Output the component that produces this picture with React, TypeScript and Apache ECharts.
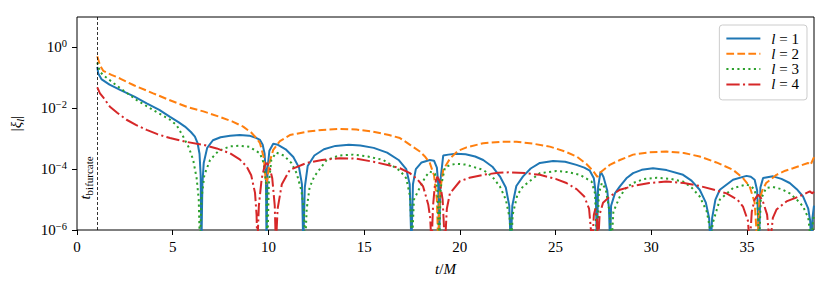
import React, { useEffect, useRef } from "react";
import * as echarts from "echarts";

const T_BIF = 1.05;
const X_TICKS = [0, 5, 10, 15, 20, 25, 30, 35];
const Y_TICKS = [1e-6, 1e-4, 1e-2, 1];
const SERIES_NAMES = ["l = 1", "l = 2", "l = 3", "l = 4"];
const COLORS = ["#1f77b4", "#ff7f0e", "#2ca02c", "#d62728"];

// value 3e-7 marks a zero crossing (below the axis floor)
const L1: [number, number][] = [
  [1.06, 2.3e-1], [1.11, 1.4e-1], [1.29, 8.9e-2], [1.7, 6.0e-2], [2.25, 4.0e-2], [3.0, 2.4e-2],
  [3.64, 1.45e-2], [4.3, 8.9e-3], [4.86, 5.2e-3], [5.3, 3.5e-3], [5.64, 2.5e-3], [5.95, 1.66e-3],
  [6.16, 1.17e-3], [6.3, 7.1e-4], [6.4, 3.2e-4], [6.46, 6.3e-5], [6.5, 3e-7], [6.55, 3.2e-5],
  [6.62, 1.6e-4], [6.8, 5.0e-4], [7.1, 8.9e-4], [7.5, 1.12e-3], [8.0, 1.26e-3], [8.5, 1.32e-3],
  [9.0, 1.26e-3], [9.3, 1.1e-3], [9.56, 9.1e-4], [9.7, 6.3e-4], [9.8, 3.2e-4], [9.87, 6.3e-5],
  [9.9, 3e-7], [9.95, 1.0e-4], [10.05, 4.0e-4], [10.25, 6.8e-4], [10.5, 6.3e-4], [10.9, 4.5e-4],
  [11.3, 2.5e-4], [11.6, 1.12e-4], [11.75, 3.2e-5], [11.82, 3e-7], [11.9, 2.5e-5], [12.05, 1.26e-4],
  [12.4, 2.8e-4], [12.9, 4.5e-4], [13.5, 5.8e-4], [14.2, 6.3e-4], [14.8, 6.0e-4], [15.5, 5.0e-4],
  [16.2, 3.5e-4], [16.8, 2.0e-4], [17.2, 1.0e-4], [17.38, 3.2e-5], [17.47, 3e-7], [17.55, 3.2e-5],
  [17.7, 1.0e-4], [18.0, 1.66e-4], [18.43, 2.0e-4], [18.65, 1.9e-4], [18.8, 1.12e-4], [18.87, 3.2e-5],
  [18.92, 3e-7], [18.98, 4.0e-5], [19.13, 2.8e-4], [19.4, 3.0e-4], [19.8, 3.2e-4], [20.3, 3.1e-4],
  [20.8, 2.6e-4], [21.22, 2.0e-4], [21.7, 1.2e-4], [22.09, 5.8e-5], [22.4, 2.5e-5], [22.58, 6.3e-6],
  [22.66, 3e-7], [22.74, 6.3e-6], [22.95, 2.8e-5], [23.3, 5.8e-5], [23.7, 1.05e-4], [24.18, 1.6e-4],
  [24.87, 1.86e-4], [25.5, 1.74e-4], [26.09, 1.38e-4], [26.5, 1.12e-4], [26.79, 8.9e-5], [27.0, 5.0e-5],
  [27.1, 1.6e-5], [27.16, 3e-7], [27.22, 2.5e-5], [27.35, 8.3e-5], [27.5, 5.6e-5], [27.7, 2.0e-5],
  [27.79, 5.0e-6], [27.85, 3e-7], [27.9, 6.3e-6], [28.1, 1.6e-5], [28.36, 2.7e-5], [28.7, 5.0e-5],
  [29.05, 7.4e-5], [29.5, 9.5e-5], [30.09, 1.07e-4], [30.8, 9.3e-5], [31.66, 6.5e-5], [32.1, 4.2e-5],
  [32.53, 2.1e-5], [32.85, 7.9e-6], [33.02, 2.5e-6], [33.1, 3e-7], [33.18, 2.5e-6], [33.35, 1.0e-5],
  [33.58, 2.1e-5], [34.27, 4.5e-5], [34.97, 6.0e-5], [35.2, 5.6e-5], [35.4, 4.5e-5], [35.53, 2.0e-5],
  [35.63, 3e-7], [35.7, 2.5e-5], [35.84, 5.1e-5], [36.36, 5.8e-5], [36.8, 4.8e-5], [37.23, 3.5e-5],
  [37.6, 2.2e-5], [37.93, 1.26e-5], [38.2, 5.0e-6], [38.3, 2.0e-6], [38.36, 3e-7], [38.42, 2.5e-6],
  [38.5, 6.3e-6],
];

const L2: [number, number][] = [
  [1.06, 5.1e-1], [1.2, 2.6e-1], [1.37, 1.7e-1], [1.8, 1.26e-1], [2.25, 9.5e-2], [3.0, 5.6e-2],
  [3.98, 3.1e-2], [4.8, 1.9e-2], [5.73, 1.12e-2], [6.6, 7.9e-3], [7.47, 5.2e-3], [8.1, 3.7e-3],
  [8.68, 2.5e-3], [9.1, 1.6e-3], [9.4, 1.0e-3], [9.56, 7.1e-4], [9.75, 2.5e-4], [9.88, 3.2e-5],
  [9.95, 5.0e-5], [10.05, 1.6e-4], [10.25, 4.3e-4], [10.6, 8.3e-4], [11.12, 1.32e-3], [12.0, 1.7e-3],
  [12.8, 1.95e-3], [13.73, 2.1e-3], [14.6, 2.0e-3], [15.47, 1.7e-3], [16.3, 1.32e-3], [16.87, 1.05e-3],
  [17.4, 6.3e-4], [17.91, 3.8e-4], [18.2, 2.5e-4], [18.43, 1.6e-4], [18.65, 6.3e-5], [18.8, 1.0e-5],
  [18.87, 3e-7], [18.95, 1.6e-5], [19.13, 9.5e-5], [19.48, 2.2e-4], [19.9, 4.0e-4], [20.35, 5.2e-4],
  [21.22, 7.1e-4], [22.1, 7.9e-4], [22.96, 7.9e-4], [23.8, 6.9e-4], [24.7, 5.5e-4], [25.5, 3.8e-4],
  [26.1, 2.6e-4], [26.6, 1.5e-4], [26.95, 8.9e-5], [27.18, 5.6e-5], [27.35, 7.9e-5], [27.83, 1.38e-4],
  [28.36, 2.0e-4], [29.05, 3.0e-4], [29.9, 3.6e-4], [30.79, 3.8e-4], [31.7, 3.4e-4], [32.53, 2.6e-4],
  [33.4, 1.66e-4], [34.27, 9.5e-5], [34.8, 5.0e-5], [35.14, 2.7e-5], [35.4, 7.9e-6], [35.55, 3e-7],
  [35.65, 1.0e-5], [35.8, 2.0e-5], [36.0, 3.5e-5], [36.54, 6.5e-5], [37.0, 8.9e-5], [37.4, 1.07e-4],
  [37.9, 1.38e-4], [38.19, 1.6e-4], [38.32, 1.38e-4], [38.5, 2.5e-4],
];

const L3: [number, number][] = [
  [1.06, 3.2e-1], [1.2, 1.6e-1], [1.37, 1.23e-1], [1.8, 7.6e-2], [2.25, 4.6e-2], [2.7, 2.9e-2],
  [3.12, 1.86e-2], [3.98, 8.7e-3], [4.86, 4.2e-3], [5.2, 2.8e-3], [5.55, 1.17e-3], [5.85, 5.0e-4],
  [6.07, 2.0e-4], [6.25, 5.0e-5], [6.36, 1.0e-5], [6.42, 3e-7], [6.5, 1.0e-5], [6.65, 6.3e-5],
  [6.95, 2.0e-4], [7.4, 4.0e-4], [8.0, 5.6e-4], [8.5, 5.9e-4], [9.0, 5.4e-4], [9.56, 3.3e-4],
  [9.75, 1.6e-4], [9.88, 3.2e-5], [9.95, 3e-7], [10.02, 3.2e-5], [10.15, 2.0e-4], [10.4, 3.5e-4],
  [10.8, 2.8e-4], [11.2, 1.6e-4], [11.47, 7.4e-5], [11.72, 2.0e-5], [11.85, 5.0e-6], [11.92, 3e-7],
  [12.0, 5.0e-6], [12.15, 2.5e-5], [12.4, 5.8e-5], [13.04, 2.0e-4], [13.7, 2.8e-4], [14.43, 3.0e-4],
  [15.2, 2.6e-4], [16.0, 2.0e-4], [16.87, 8.9e-5], [17.2, 5.0e-5], [17.4, 1.26e-5], [17.5, 3e-7],
  [17.6, 1.0e-5], [17.91, 2.5e-5], [18.2, 5.6e-5], [18.43, 8.3e-5], [18.7, 7.1e-5], [18.83, 2.0e-5],
  [18.92, 3e-7], [19.0, 2.5e-5], [19.22, 1.12e-4], [19.5, 1.38e-4], [19.83, 1.5e-4], [20.3, 1.41e-4],
  [21.22, 9.5e-5], [21.7, 5.6e-5], [22.09, 2.7e-5], [22.4, 1.0e-5], [22.6, 2.5e-6], [22.68, 3e-7],
  [22.76, 3.2e-6], [23.0, 1.4e-5], [23.3, 2.7e-5], [24.18, 7.4e-5], [25.05, 8.7e-5], [25.7, 7.9e-5],
  [26.27, 6.5e-5], [26.88, 3.9e-5], [27.06, 1.6e-5], [27.16, 3e-7], [27.26, 1.6e-5], [27.42, 3.5e-5],
  [27.62, 2.2e-5], [27.82, 4.0e-6], [27.92, 3e-7], [28.02, 4.0e-6], [28.36, 1.26e-5], [28.7, 2.5e-5],
  [29.05, 3.5e-5], [29.6, 4.7e-5], [30.27, 5.2e-5], [31.0, 4.8e-5], [31.66, 3.9e-5], [32.1, 2.5e-5],
  [32.53, 1.26e-5], [32.9, 4.0e-6], [33.05, 1.26e-6], [33.12, 3e-7], [33.2, 1.6e-6], [33.58, 1.0e-5],
  [34.27, 2.4e-5], [34.97, 3.1e-5], [35.2, 2.8e-5], [35.4, 2.1e-5], [35.55, 6.3e-6], [35.63, 3e-7],
  [35.72, 1.0e-5], [36.0, 2.4e-5], [36.36, 2.6e-5], [36.8, 2.2e-5], [37.23, 1.6e-5], [37.6, 1.0e-5],
  [37.93, 5.9e-6], [38.2, 2.5e-6], [38.36, 3e-7], [38.45, 2.0e-6], [38.5, 3.2e-6],
];

const L4: [number, number][] = [
  [1.06, 4.9e-2], [1.2, 3.1e-2], [1.37, 2.3e-2], [1.72, 1.12e-2], [2.1, 7.1e-3], [2.59, 4.2e-3],
  [3.1, 2.8e-3], [3.64, 1.95e-3], [4.2, 1.41e-3], [4.86, 1.05e-3], [5.7, 7.9e-4], [6.6, 6.3e-4],
  [7.3, 4.8e-4], [8.0, 3.3e-4], [8.5, 2.1e-4], [8.86, 1.23e-4], [9.1, 6.3e-5], [9.3, 1.66e-5],
  [9.38, 3.2e-6], [9.42, 3e-7], [9.5, 6.3e-6], [9.65, 5.0e-5], [9.8, 1.26e-4], [9.9, 1.6e-4],
  [10.05, 1.26e-4], [10.2, 5.0e-5], [10.33, 6.3e-6], [10.39, 3e-7], [10.48, 5.0e-6], [10.7, 3.2e-5],
  [11.12, 9.5e-5], [12.0, 1.6e-4], [12.8, 2.0e-4], [13.73, 2.3e-4], [14.6, 2.2e-4], [15.5, 1.74e-4],
  [16.34, 1.32e-4], [16.87, 1.07e-4], [17.39, 7.4e-5], [17.8, 4.5e-5], [18.08, 2.7e-5], [18.35, 6.8e-6],
  [18.45, 2.5e-6], [18.52, 3e-7], [18.6, 6.3e-6], [18.7, 3.2e-5], [18.82, 5.6e-5], [18.95, 4.0e-5],
  [19.1, 1.0e-5], [19.22, 3e-7], [19.32, 5.0e-6], [19.48, 1.6e-5], [20.0, 4.0e-5], [20.5, 5.2e-5],
  [21.22, 6.5e-5], [22.0, 7.6e-5], [22.61, 7.9e-5], [23.4, 7.4e-5], [24.18, 6.5e-5], [25.0, 4.8e-5],
  [25.57, 3.5e-5], [26.1, 2.2e-5], [26.5, 1.26e-5], [26.75, 5.0e-6], [26.92, 3e-7], [27.0, 3.2e-6],
  [27.08, 5.0e-6], [27.15, 3.2e-6], [27.22, 3e-7], [27.3, 3.2e-6], [27.48, 7.9e-6], [27.83, 1.26e-5],
  [28.36, 2.1e-5], [29.05, 2.8e-5], [29.9, 3.5e-5], [30.79, 3.9e-5], [31.7, 3.5e-5], [32.53, 2.8e-5],
  [33.4, 2.0e-5], [33.93, 1.6e-5], [34.5, 1.0e-5], [34.79, 5.9e-6], [35.05, 2.0e-6], [35.14, 3e-7],
  [35.25, 4.0e-6], [35.4, 1.0e-5], [35.58, 1.45e-5], [35.8, 1.0e-5], [36.05, 3.2e-6], [36.2, 3e-7],
  [36.35, 2.5e-6], [36.54, 4.7e-6], [37.06, 8.7e-6], [37.5, 1.12e-5], [37.93, 1.45e-5], [38.28, 1.86e-5],
  [38.4, 1.6e-5], [38.5, 1.8e-5],
];

const DATA = [L1, L2, L3, L4];
const DASHES: (number[] | "solid")[] = ["solid", [7.7, 3.3], [2.1, 3.4], [13.3, 3.3, 2.1, 3.3]];

const SERIF = "'Liberation Serif', 'DejaVu Serif', serif";

function supExp(v: number): string {
  const e = Math.round(Math.log10(v));
  return e < 0 ? "\u2212" + String(-e) : String(e);
}

export default function App() {
  const ref = useRef<HTMLDivElement>(null);

  useEffect(() => {
    if (!ref.current) return;
    const chart = echarts.init(ref.current, undefined, { renderer: "svg" });

    const series = DATA.map((d, i) => ({
      name: SERIES_NAMES[i],
      type: "line",
      data: d,
      showSymbol: false,
      symbol: "none",
      clip: true,
      z: 2 + i,
      lineStyle: {
        color: COLORS[i],
        width: 2,
        type: DASHES[i],
        cap: "butt",
      },
      itemStyle: { color: COLORS[i] },
      markLine:
        i === 0
          ? {
              silent: true,
              symbol: ["none", "none"],
              label: { show: false },
              lineStyle: { color: "#000", width: 0.8, type: [3, 2] },
              data: [{ xAxis: T_BIF }],
            }
          : undefined,
    }));

    const option: any = {
      animation: false,
      textStyle: { fontFamily: SERIF },
      grid: {
        left: 77,
        right: 17,
        top: 17,
        bottom: 60,
        show: true,
        borderColor: "#000",
        borderWidth: 1,
        outerBoundsMode: "none",
      },
      legend: {
        orient: "vertical",
        right: 24,
        top: 25,
        itemWidth: 34,
        itemHeight: 12,
        itemGap: 0.3,
        padding: [6, 8, 8, 6],
        backgroundColor: "rgba(255,255,255,0.8)",
        borderColor: "#cccccc",
        borderWidth: 1,
        borderRadius: 3,
        itemStyle: { opacity: 0 },
        data: SERIES_NAMES,
        formatter: (name: string) => "{i|l} = " + name.split("= ")[1],
        textStyle: {
          fontFamily: SERIF,
          fontSize: 15,
          color: "#000",
          lineHeight: 14,
          padding: [0, 0, 0, 6],
          rich: {
            i: { fontFamily: SERIF, fontStyle: "italic", fontSize: 15, lineHeight: 14, color: "#000" },
          },
        },
      },
      xAxis: {
        type: "value",
        min: 0,
        max: 38.5,
        name: "{i|t}/{i|M}",
        nameLocation: "middle",
        nameGap: 31,
        nameTextStyle: {
          fontFamily: SERIF,
          fontSize: 15,
          color: "#000",
          rich: { i: { fontFamily: SERIF, fontStyle: "italic", fontSize: 15, color: "#000" } },
        },
        axisLine: { show: false },
        splitLine: { show: false },
        axisTick: { show: true, length: 5, lineStyle: { color: "#000", width: 1 }, customValues: X_TICKS },
        axisLabel: {
          margin: 9,
          fontFamily: SERIF,
          fontSize: 15,
          color: "#000",
          customValues: X_TICKS,
          formatter: (v: number) => String(v),
        },
      },
      yAxis: {
        type: "log",
        logBase: 10,
        min: 1e-6,
        max: 10,
        name: "|{i|\u03be}{sub|l}|",
        nameLocation: "middle",
        nameRotate: 90,
        nameGap: 52,
        nameTextStyle: {
          fontFamily: SERIF,
          fontSize: 15,
          color: "#000",
          lineHeight: 18,
          rich: {
            i: { fontFamily: SERIF, fontStyle: "italic", fontSize: 15, lineHeight: 18, color: "#000" },
            sub: { fontFamily: SERIF, fontStyle: "italic", fontSize: 11, lineHeight: 11, verticalAlign: "bottom", color: "#000" },
          },
        },
        axisLine: { show: false },
        splitLine: { show: false },
        minorTick: { show: false },
        axisTick: { show: true, length: 5, lineStyle: { color: "#000", width: 1 }, customValues: Y_TICKS },
        axisLabel: {
          margin: 10,
          fontFamily: SERIF,
          customValues: Y_TICKS,
          formatter: (v: number) => "{b|10}{s|" + supExp(v) + "}",
          rich: {
            b: { fontFamily: SERIF, fontSize: 15, lineHeight: 18, color: "#000" },
            s: { fontFamily: SERIF, fontSize: 10.5, lineHeight: 10, verticalAlign: "top", color: "#000" },
          },
        },
      },
      series,
    };

    chart.setOption(option);

    const p = chart.convertToPixel({ xAxisIndex: 0, yAxisIndex: 0 }, [T_BIF, 1e-5]) as number[];
    if (p && isFinite(p[0]) && isFinite(p[1])) {
      chart.setOption({
        graphic: [
          {
            type: "text",
            x: p[0] - 3,
            y: p[1],
            rotation: Math.PI / 2,
            silent: true,
            style: {
              text: "{t|t}{s|bifurcate}",
              align: "left",
              verticalAlign: "bottom",
              fill: "#000",
              fontFamily: SERIF,
              rich: {
                t: { fontFamily: SERIF, fontStyle: "italic", fontSize: 15, lineHeight: 18, fill: "#000" },
                s: { fontFamily: SERIF, fontSize: 11, lineHeight: 11, verticalAlign: "bottom", fill: "#000" },
              },
            },
          },
        ],
      });
    }

    return () => chart.dispose();
  }, []);

  return (
    <div
      ref={ref}
      style={{ position: "absolute", left: 0, top: 0, width: 831, height: 290 }}
    />
  );
}
